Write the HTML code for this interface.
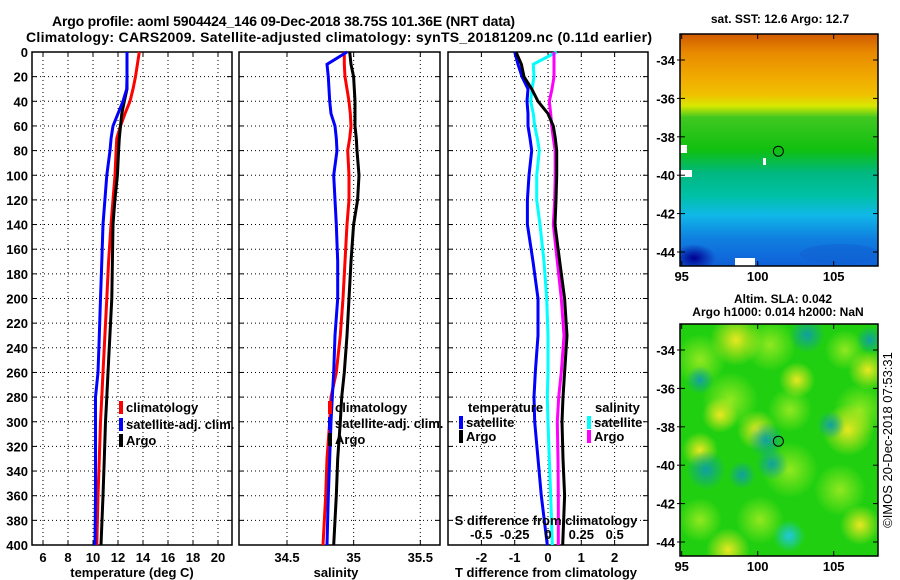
<!DOCTYPE html>
<html><head><meta charset="utf-8"><style>
body{margin:0;background:#fff}
svg{display:block;font-family:"Liberation Sans",Arial,sans-serif;font-weight:bold}
</style></head><body>
<svg id="c" width="900" height="580" viewBox="0 0 900 580" xmlns="http://www.w3.org/2000/svg">
<defs>
<linearGradient id="sstg" x1="0" y1="0" x2="0" y2="1">
<stop offset="0" stop-color="#d05a00"/><stop offset="0.08" stop-color="#e88a00"/>
<stop offset="0.18" stop-color="#f0a800"/><stop offset="0.26" stop-color="#f0c000"/>
<stop offset="0.31" stop-color="#d8e800"/><stop offset="0.36" stop-color="#40c820"/>
<stop offset="0.5" stop-color="#10c010"/><stop offset="0.6" stop-color="#00b880"/>
<stop offset="0.7" stop-color="#00c0a8"/><stop offset="0.78" stop-color="#10b8e8"/>
<stop offset="0.88" stop-color="#1080e0"/><stop offset="1" stop-color="#1060d8"/>
</linearGradient>
<radialGradient id="yb"><stop offset="0" stop-color="#e8e820"/><stop offset="1" stop-color="#e8e820" stop-opacity="0"/></radialGradient>
<radialGradient id="lb"><stop offset="0" stop-color="#90e820"/><stop offset="1" stop-color="#90e820" stop-opacity="0"/></radialGradient>
<radialGradient id="tb"><stop offset="0" stop-color="#10a0a0"/><stop offset="1" stop-color="#10a0a0" stop-opacity="0"/></radialGradient>
<radialGradient id="cb"><stop offset="0" stop-color="#20c8e0"/><stop offset="1" stop-color="#20c8e0" stop-opacity="0"/></radialGradient>
<radialGradient id="nb"><stop offset="0" stop-color="#000090"/><stop offset="1" stop-color="#000090" stop-opacity="0"/></radialGradient>
</defs>
<text x="52" y="26" font-size="14" textLength="463">Argo profile: aoml 5904424_146 09-Dec-2018 38.75S 101.36E (NRT data)</text>
<text x="26" y="42" font-size="14" textLength="626">Climatology: CARS2009. Satellite-adjusted climatology: synTS_20181209.nc (0.11d earlier)</text>
<g id="panels"></g>
<g id="maps"></g>
</svg>
<script>
// ---- data ----
const depths = [0,10,20,30,40,50,60,70,80,100,120,140,170,200,230,260,280,300,330,360,400];
const tempClim = [13.7,13.55,13.4,13.2,12.96,12.56,12.2,11.9,11.85,11.76,11.6,11.44,11.25,11.1,10.95,10.8,10.7,10.6,10.5,10.4,10.3];
const tempSat  = [12.72,12.72,12.72,12.7,12.4,12.0,11.6,11.45,11.36,11.1,10.95,10.8,10.7,10.6,10.5,10.4,10.2,10.2,10.2,10.2,10.16];
const tempArgo = [12.72,12.72,12.72,12.72,12.5,12.3,12.2,12.1,12.05,11.95,11.75,11.6,11.55,11.5,11.35,11.2,11.1,11.0,10.9,10.8,10.64];
const salClim = [34.93,34.93,34.935,34.95,34.965,34.975,34.98,34.97,34.955,34.965,34.965,34.95,34.935,34.92,34.9,34.87,34.83,34.82,34.8,34.79,34.77];
const salSat  = [34.95,34.8,34.81,34.815,34.82,34.83,34.86,34.87,34.875,34.85,34.86,34.87,34.88,34.88,34.86,34.85,34.84,34.83,34.82,34.81,34.8];
const salArgo = [34.97,34.98,35.0,35.005,35.01,35.01,35.01,35.02,35.025,35.04,35.03,35.0,34.98,34.965,34.95,34.93,34.91,34.9,34.88,34.87,34.85];
const tDiffSat  = [-1.0,-0.9,-0.78,-0.6,-0.63,-0.6,-0.6,-0.54,-0.49,-0.57,-0.62,-0.62,-0.45,-0.3,-0.3,-0.38,-0.42,-0.4,-0.3,-0.2,-0.02];
const tDiffArgo = [-0.96,-0.8,-0.72,-0.49,-0.3,0.0,0.16,0.22,0.26,0.26,0.24,0.21,0.35,0.5,0.57,0.5,0.45,0.42,0.45,0.5,0.44];
const sDiffSat  = [0.065,-0.11,-0.105,-0.12,-0.13,-0.11,-0.1,-0.08,-0.065,-0.085,-0.085,-0.06,-0.03,-0.01,0.0,0.0,-0.005,0.0,0.01,0.02,0.032];
const sDiffArgo = [0.045,0.045,0.045,0.03,0.01,0.02,0.028,0.04,0.053,0.054,0.05,0.04,0.07,0.1,0.12,0.1,0.08,0.07,0.075,0.077,0.077];
const depthTicks = [0,20,40,60,80,100,120,140,160,180,200,220,240,260,280,300,320,340,360,380,400];
const tempTicks = [6,8,10,12,14,16,18,20];
const salTicks = [34.5,35,35.5];
const tdTicks = [-2,-1,0,1,2];
const sdTicks = [-0.5,-0.25,0,0.25,0.5];
const sdTickLabels = ["-0.5","-0.25","0","0.25","0.5"];
const latTicks = [-34,-36,-38,-40,-42,-44];
const lonTicks = [95,100,105];
const argoLon = 101.36, argoLat = -38.75;

const NS="http://www.w3.org/2000/svg";
const svg=document.getElementById('c');
const P=document.getElementById('panels');
const M=document.getElementById('maps');
function el(t,a,p){const e=document.createElementNS(NS,t);for(const k in a)e.setAttribute(k,a[k]);(p||svg).appendChild(e);return e;}
const Y0=52,Y1=545;
const yD=d=>Y0+d/400*(Y1-Y0);

function panel(name,x0,x1,xs,xticks,xlabels,showY){
  const g=el('g',{},P);
  
  
  depthTicks.forEach((d,i)=>{
    const y=yD(d);
    if(i>0&&i<depthTicks.length-1){
      const l=el('line',{x1:x0,x2:x1,y1:y,y2:y,stroke:'#000','stroke-width':1,'stroke-dasharray':'1 3'},g);
      
    }
    el('line',{x1:x0,x2:x0+5,y1:y,y2:y,stroke:'#000'},g);
    el('line',{x1:x1-5,x2:x1,y1:y,y2:y,stroke:'#000'},g);
    if(showY){const t=el('text',{x:x0-4,y:y+5,'font-size':13,'text-anchor':'end'},g);t.textContent=d;
      }
  });
  xticks.forEach((v,i)=>{
    const x=xs(v);
    el('line',{x1:x,x2:x,y1:Y0,y2:Y1,stroke:'#000','stroke-dasharray':'1 3'},g);
    el('line',{x1:x,x2:x,y1:Y0,y2:Y0+5,stroke:'#000'},g);
    el('line',{x1:x,x2:x,y1:Y1-5,y2:Y1,stroke:'#000'},g);
    const t=el('text',{x:x,y:562,'font-size':13,'text-anchor':'middle'},g);t.textContent=xlabels[i];
    
  });
  el('rect',{x:x0,y:Y0,width:x1-x0,height:Y1-Y0,fill:'none',stroke:'#000','stroke-width':1.5},g);
  return g;
}
function series(g,vals,xs,color,w,name){
  const pts=vals.map((v,i)=>xs(v).toFixed(1)+','+yD(depths[i]).toFixed(1)).join(' ');
  const p=el('polyline',{points:pts,fill:'none',stroke:color,'stroke-width':w,'stroke-linejoin':'miter'},g);
  
  
}
function txt(g,x,y,s,opt,name){const t=el('text',Object.assign({x:x,y:y,'font-size':13},opt||{}),g);t.textContent=s;
  return t;}
function legend(g,x,y,color,label,name){
  const r=el('rect',{x:x,y:y-11,width:4,height:13,fill:color},g);
  
  txt(g,x+7,y,label,{},name);
}

// Panel 1 temperature
const xT=v=>43+(v-6)*12.5;
const g1=panel('temperature-panel',32,232,xT,tempTicks,tempTicks.map(String),true);
series(g1,tempClim,xT,'#f00',3,'temp-climatology-line');
series(g1,tempArgo,xT,'#000',3,'temp-argo-line');
series(g1,tempSat,xT,'#00f',3,'temp-satellite-line');
legend(g1,119,412,'#f00','climatology','legend-climatology');
legend(g1,119,429,'#00f','satellite-adj. clim.','legend-satellite');
legend(g1,119,445,'#000','Argo','legend-argo');
txt(g1,132,577,'temperature (deg C)',{'text-anchor':'middle'},'x-axis-title-temperature');

// Panel 2 salinity
const xS=v=>287+(v-34.5)*133.3;
const g2=panel('salinity-panel',239,440,xS,salTicks,['34.5','35','35.5'],false);
series(g2,salClim,xS,'#f00',3,'sal-climatology-line');
series(g2,salArgo,xS,'#000',3,'sal-argo-line');
series(g2,salSat,xS,'#00f',3,'sal-satellite-line');
legend(g2,328,412,'#f00','climatology','legend-climatology');
legend(g2,328,428,'#00f','satellite-adj. clim.','legend-satellite');
legend(g2,328,444,'#000','Argo','legend-argo');
txt(g2,336,577,'salinity',{'text-anchor':'middle'},'x-axis-title-salinity');

// Panel 3 differences
const xTD=v=>548+v*33.3;
const xSD=v=>548+v*133.3;
const g3=panel('difference-panel',448,648,xTD,tdTicks,tdTicks.map(String),false);
series(g3,tDiffSat,xTD,'#00f',3,'tdiff-satellite-line');
series(g3,sDiffSat,xSD,'#0ff',3,'sdiff-satellite-line');
series(g3,sDiffArgo,xSD,'#f0f',3,'sdiff-argo-line');
series(g3,tDiffArgo,xTD,'#000',3,'tdiff-argo-line');
txt(g3,468,412,'temperature',{},'legend-title-temperature');
legend(g3,459,427,'#00f','satellite','legend-t-satellite');
legend(g3,459,441,'#000','Argo','legend-t-argo');
txt(g3,595,412,'salinity',{},'legend-title-salinity');
legend(g3,587,427,'#0ff','satellite','legend-s-satellite');
legend(g3,587,441,'#f0f','Argo','legend-s-argo');
txt(g3,546,525,'S difference from climatology',{'text-anchor':'middle'},'s-axis-title');
sdTicks.forEach((v,i)=>txt(g3,xSD(v),539,sdTickLabels[i],{'text-anchor':'middle'},'s-tick-label'));
txt(g3,546,577,'T difference from climatology',{'text-anchor':'middle'},'x-axis-title-tdiff');

// Maps
function map(name,top,bottom,fillFn){
  const L=680,R=878;
  const g=el('g',{},M);
  
  const cp=el('clipPath',{id:name+'-clip'},g);
  el('rect',{x:L,y:top,width:R-L,height:bottom-top},cp);
  const inner=el('g',{'clip-path':'url(#'+name+'-clip)'},g);
  fillFn(inner,L,top,R-L,bottom-top);
  const lonX=v=>681.7+(v-95)*15.2;
  const latY=v=>top+26+(-34-v)*19.2;
  latTicks.forEach(v=>{const y=latY(v);
    el('line',{x1:L,x2:L+5,y1:y,y2:y,stroke:'#000'},g);el('line',{x1:R-5,x2:R,y1:y,y2:y,stroke:'#000'},g);
    el('line',{x1:L-3,x2:L,y1:y,y2:y,stroke:'#000'},g);
    txt(g,675,y+5,String(v),{'text-anchor':'end'},'lat-tick-label');});
  lonTicks.forEach(v=>{const x=lonX(v);
    el('line',{x1:x,x2:x,y1:bottom-5,y2:bottom,stroke:'#000'},g);el('line',{x1:x,x2:x,y1:top,y2:top+5,stroke:'#000'},g);
    txt(g,x,bottom+15,String(v),{'text-anchor':'middle'},'lon-tick-label');});
  el('rect',{x:L,y:top,width:R-L,height:bottom-top,fill:'none',stroke:'#000','stroke-width':1.5},g);
  const c=el('circle',{cx:lonX(argoLon),cy:latY(argoLat),r:5,fill:'none',stroke:'#000','stroke-width':1},g);
  
  return g;
}
map('sst-map',34,266,(g,x,y,w,h)=>{
  el('rect',{x:x,y:y,width:w,height:h,fill:'url(#sstg)'},g);
  el('ellipse',{cx:x+14,cy:y+h-8,rx:22,ry:14,fill:'url(#nb)'},g);
  el('ellipse',{cx:x+160,cy:y+h-12,rx:40,ry:10,fill:'#1060d0','opacity':0.5},g);
  el('rect',{x:x,y:145,width:7,height:8,fill:'#fff'},g);
  el('rect',{x:x,y:170,width:12,height:7,fill:'#fff'},g);
  el('rect',{x:763,y:158,width:3,height:7,fill:'#fff'},g);
  el('rect',{x:735,y:258,width:20,height:8,fill:'#fff'},g);
});
txt(M,780,23,'sat. SST: 12.6 Argo: 12.7',{'text-anchor':'middle','font-size':12},'sst-map-title');
map('sla-map',324,556,(g,x,y,w,h)=>{
  el('rect',{x:x,y:y,width:w,height:h,fill:'#20d010'},g);
  [[700,360,26],[770,345,26],[860,410,26],[730,400,28],[790,470,28],[840,490,26],[700,520,22],[790,410,22],[760,520,24],[845,350,20]].forEach(b=>el('circle',{cx:b[0],cy:b[1],r:b[2],fill:'url(#lb)'},g));
  [[736,340,26],[868,370,20],[700,450,18],[797,380,18],[728,550,22],[848,430,26],[860,525,20],[757,430,20],[720,415,18]].forEach(b=>el('circle',{cx:b[0],cy:b[1],r:b[2],fill:'url(#yb)'},g));
  [[807,335,18],[870,340,14],[706,470,20],[766,440,18],[831,425,14],[772,464,16],[742,475,14],[700,380,14]].forEach(b=>el('circle',{cx:b[0],cy:b[1],r:b[2],fill:'url(#tb)'},g));
  el('circle',{cx:789,cy:536,r:16,fill:'url(#cb)'},g);
});
txt(M,783,303,'Altim. SLA: 0.042',{'text-anchor':'middle','font-size':12},'sla-map-title');
txt(M,778,316,'Argo h1000: 0.014 h2000: NaN',{'text-anchor':'middle','font-size':12},'sla-map-subtitle');
txt(M,0,0,'©IMOS 20-Dec-2018 07:53:31',{'font-weight':'normal','text-anchor':'middle','transform':'translate(892,440) rotate(-90)'},'timestamp-credit');
</script>
</body></html>
